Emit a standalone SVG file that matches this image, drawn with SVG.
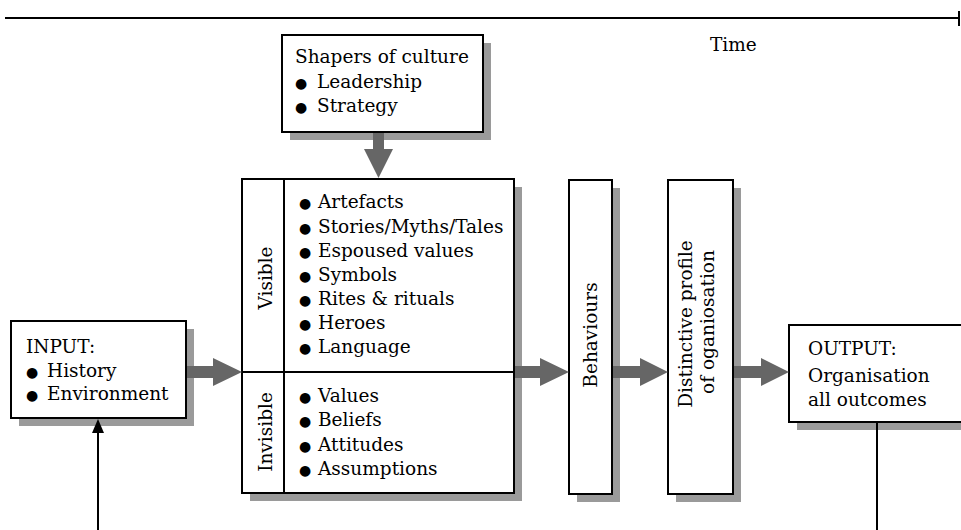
<svg xmlns="http://www.w3.org/2000/svg" width="961" height="530" viewBox="0 0 961 530">
<style>
  .box { fill: #fff; stroke: #000; stroke-width: 2; }
  .shadow { fill: #9a9a9a; }
  .t { font-family: "DejaVu Serif", "Liberation Serif", serif; font-size: 18.5px; fill: #000; }
  .b { font-family: "DejaVu Sans", sans-serif; font-size: 14px; fill: #000; }
  .blk { fill: #666; }
  .ln { stroke: #000; stroke-width: 2; fill: none; }
</style>
<rect width="961" height="530" fill="#fff"/>

<g id="timeline">
  <line class="ln" x1="5" y1="18" x2="958" y2="18" stroke-width="2.5"/>
  <line class="ln" x1="959" y1="11" x2="959" y2="26" stroke-width="3"/>
  <text class="t" x="710" y="51">Time</text>
</g>

<g id="shapers">
  <rect class="shadow" x="290" y="43" width="201" height="97"/>
  <rect class="box" x="282" y="35" width="201" height="97"/>
  <text class="t" x="295" y="63">Shapers of culture</text>
  <text class="b" x="295" y="88">●</text><text class="t" x="317" y="88">Leadership</text>
  <text class="b" x="295" y="112">●</text><text class="t" x="317" y="112">Strategy</text>
</g>

<g id="culture">
  <rect class="shadow" x="250" y="187" width="272" height="314"/>
  <rect class="box" x="242" y="179" width="272" height="314"/>
  <line class="ln" x1="284" y1="179" x2="284" y2="493"/>
  <line class="ln" x1="242" y1="372" x2="514" y2="372"/>
  <text class="t" text-anchor="middle" transform="translate(272,278) rotate(-90)">Visible</text>
  <text class="t" text-anchor="middle" transform="translate(272,432) rotate(-90)">Invisible</text>
  <g>
    <text class="b" x="299" y="208">●</text><text class="t" x="318" y="208">Artefacts</text>
    <text class="b" x="299" y="233">●</text><text class="t" x="318" y="233">Stories/Myths/Tales</text>
    <text class="b" x="299" y="257">●</text><text class="t" x="318" y="257">Espoused values</text>
    <text class="b" x="299" y="281">●</text><text class="t" x="318" y="281">Symbols</text>
    <text class="b" x="299" y="305">●</text><text class="t" x="318" y="305">Rites &amp; rituals</text>
    <text class="b" x="299" y="329">●</text><text class="t" x="318" y="329">Heroes</text>
    <text class="b" x="299" y="353">●</text><text class="t" x="318" y="353">Language</text>
    <text class="b" x="299" y="402">●</text><text class="t" x="318" y="402">Values</text>
    <text class="b" x="299" y="426">●</text><text class="t" x="318" y="426">Beliefs</text>
    <text class="b" x="299" y="451">●</text><text class="t" x="318" y="451">Attitudes</text>
    <text class="b" x="299" y="475">●</text><text class="t" x="318" y="475">Assumptions</text>
  </g>
</g>

<g id="input">
  <rect class="shadow" x="19" y="329" width="175" height="97"/>
  <rect class="box" x="11" y="321" width="175" height="97"/>
  <text class="t" x="26" y="353">INPUT:</text>
  <text class="b" x="26" y="377">●</text><text class="t" x="47" y="377">History</text>
  <text class="b" x="26" y="400">●</text><text class="t" x="47" y="400">Environment</text>
</g>

<g id="behaviours">
  <rect class="shadow" x="577" y="188" width="43" height="314"/>
  <rect class="box" x="569" y="180" width="43" height="314"/>
  <text class="t" text-anchor="middle" transform="translate(597,335) rotate(-90)">Behaviours</text>
</g>

<g id="distinctive">
  <rect class="shadow" x="676" y="188" width="65" height="314"/>
  <rect class="box" x="668" y="180" width="65" height="314"/>
  <text class="t" text-anchor="middle" transform="translate(692,324) rotate(-90)">Distinctive profile</text>
  <text class="t" text-anchor="middle" transform="translate(714,322) rotate(-90)">of oganiosation</text>
</g>

<g id="output">
  <rect class="shadow" x="797" y="333" width="180" height="97"/>
  <rect class="box" x="789" y="325" width="180" height="97"/>
  <text class="t" x="808" y="355">OUTPUT:</text>
  <text class="t" x="808" y="382">Organisation</text>
  <text class="t" x="808" y="406">all outcomes</text>
</g>

<g id="connectors">
  <polygon class="blk" points="373,133 384,133 384,149 393,149 378.5,178 364,149 373,149"/>
  <polygon class="blk" points="187,366 213,366 213,358 242,372 213,386 213,378 187,378"/>
  <polygon class="blk" points="515,366 540,366 540,358 569,372 540,386 540,378 515,378"/>
  <polygon class="blk" points="613,366 640,366 640,358 668,372 640,386 640,378 613,378"/>
  <polygon class="blk" points="734,366 761,366 761,358 789,372 761,386 761,378 734,378"/>
  <line class="ln" x1="98" y1="530" x2="98" y2="430"/>
  <polygon points="98,419 92,433 104,433" fill="#000"/>
  <line class="ln" x1="877" y1="423" x2="877" y2="530"/>
</g>
</svg>
